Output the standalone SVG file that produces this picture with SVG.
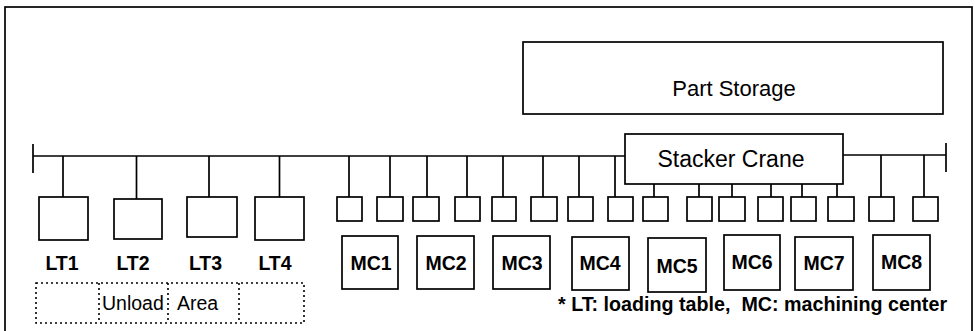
<svg xmlns="http://www.w3.org/2000/svg" width="975" height="331" viewBox="0 0 975 331">
<style>
.b{fill:#fff;stroke:#000;stroke-width:1.7}
.l{fill:none;stroke:#000;stroke-width:1.7}
.d{fill:none;stroke:#000;stroke-width:1.6;stroke-dasharray:2 3}
text{font-family:"Liberation Sans",Arial,sans-serif;fill:#000}
.lab{font-size:19.5px;font-weight:bold;text-anchor:middle}
.big{font-size:22px;text-anchor:middle}
.ua{font-size:19.5px}
.fn{font-size:19.7px;font-weight:bold;white-space:pre}
</style>
<rect width="975" height="331" fill="#fff"/>
<g id="frame"><rect class="l" x="5" y="7" width="967" height="340"/></g>
<g id="part-storage"><rect class="b" x="523" y="42" width="420" height="72"/><text class="big" x="734" y="96">Part Storage</text></g>
<g id="connectors">
<path class="l" d="M33 144V173M33 156H625M843 155H946M946 143V172"/>
<path class="l" d="M63 156V197M136.5 156V199M209 156V197M279.5 156V197"/>
<path class="l" d="M349 156V197M390 156V197M427 156V197M467 156V197M503 156V197M543 156V197M579 156V197M615 156V197M881 155V197M924 155V197"/>
<path class="l" d="M654 184V197M699 184V197M732 184V197M771 184V197M802 184V197M837 184V197"/>
</g>
<g id="stacker-crane"><rect class="b" x="625" y="134" width="218" height="50"/><text class="big" x="731" y="167" style="font-size:23px">Stacker Crane</text></g>
<g id="LT1"><rect class="b" x="39" y="197" width="49" height="43"/><text class="lab" x="62" y="270">LT1</text></g>
<g id="LT2"><rect class="b" x="114" y="199" width="48" height="40"/><text class="lab" x="133" y="270">LT2</text></g>
<g id="LT3"><rect class="b" x="187" y="197" width="50" height="40"/><text class="lab" x="205.5" y="270">LT3</text></g>
<g id="LT4"><rect class="b" x="255" y="197" width="49" height="43"/><text class="lab" x="275" y="270">LT4</text></g>
<g id="buffers">
<rect class="b" x="337" y="197" width="25" height="24"/>
<rect class="b" x="377" y="197" width="26" height="24"/>
<rect class="b" x="413" y="197" width="26" height="24"/>
<rect class="b" x="455" y="197" width="25" height="24"/>
<rect class="b" x="492" y="197" width="24" height="24"/>
<rect class="b" x="531" y="197" width="26" height="24"/>
<rect class="b" x="568" y="197" width="25" height="24"/>
<rect class="b" x="608" y="197" width="25" height="24"/>
<rect class="b" x="643" y="197" width="25" height="24"/>
<rect class="b" x="687" y="197" width="25" height="24"/>
<rect class="b" x="719" y="197" width="26" height="24"/>
<rect class="b" x="758" y="197" width="25" height="24"/>
<rect class="b" x="791" y="197" width="25" height="24"/>
<rect class="b" x="828" y="197" width="26" height="24"/>
<rect class="b" x="869" y="197" width="25" height="24"/>
<rect class="b" x="913" y="197" width="25" height="24"/>
</g>
<g id="MC1"><rect class="b" x="342" y="236" width="56" height="53"/><text class="lab" x="371" y="270">MC1</text></g>
<g id="MC2"><rect class="b" x="417" y="236" width="57" height="53"/><text class="lab" x="446" y="270">MC2</text></g>
<g id="MC3"><rect class="b" x="493" y="236" width="57" height="53"/><text class="lab" x="522" y="270">MC3</text></g>
<g id="MC4"><rect class="b" x="572" y="237" width="57" height="53"/><text class="lab" x="600" y="270">MC4</text></g>
<g id="MC5"><rect class="b" x="648" y="238" width="58" height="54"/><text class="lab" x="677" y="273">MC5</text></g>
<g id="MC6"><rect class="b" x="724" y="235" width="56" height="55"/><text class="lab" x="752" y="269">MC6</text></g>
<g id="MC7"><rect class="b" x="795" y="237" width="58" height="53"/><text class="lab" x="824" y="270">MC7</text></g>
<g id="MC8"><rect class="b" x="873" y="235" width="57" height="55"/><text class="lab" x="901.5" y="269">MC8</text></g>
<g id="unload-area">
<rect class="d" x="36" y="283" width="268" height="40"/>
<path class="d" d="M99 283V323M168 283V323M239 283V323"/>
<text class="ua" x="102" y="310">Unload</text><text class="ua" x="177" y="310">Area</text>
</g>
<g id="footnote"><text class="fn" x="558" y="311" xml:space="preserve">* LT: loading table,  MC: machining center</text></g>
</svg>
